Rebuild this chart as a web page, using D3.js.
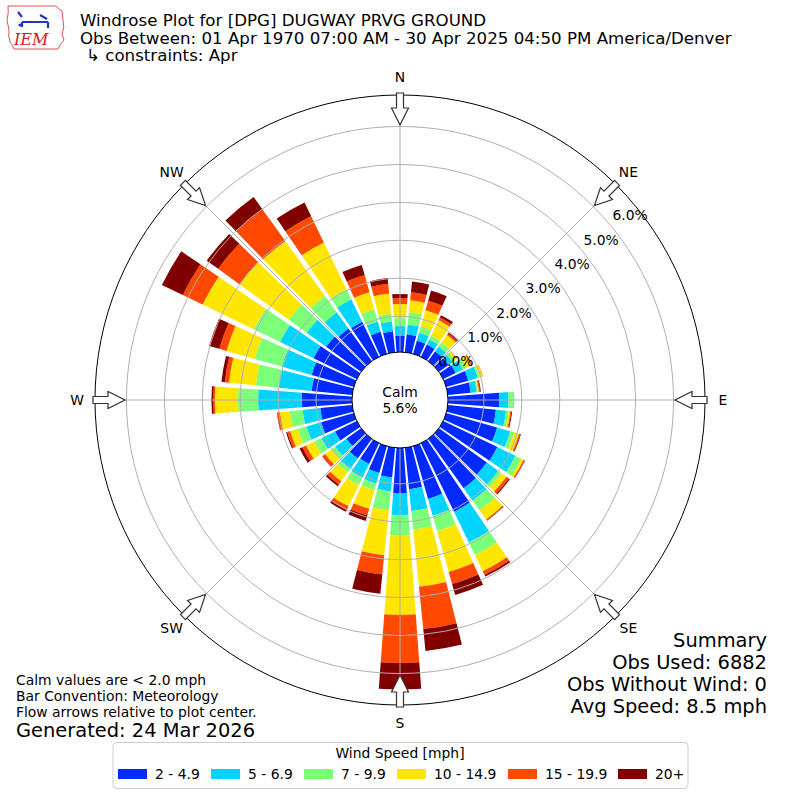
<!DOCTYPE html>
<html>
<head>
<meta charset="utf-8">
<script src="https://cdn.jsdelivr.net/npm/d3@7"></script>
<style>
  body { margin: 0; background: #fff; }
  text { font-family: "DejaVu Sans", sans-serif; }
</style>
</head>
<body>
<div id="chart"></div>
<script>
// wind direction bins (degrees, meteorological "from")
var directions = [0, 10, 20, 30, 40, 50, 60, 70, 80, 90, 100, 110, 120, 130, 140, 150, 160, 170,
  180, 190, 200, 210, 220, 230, 240, 250, 260, 270, 280, 290, 300, 310, 320, 330, 340, 350];

var speedBins = ["2 - 4.9", "5 - 6.9", "7 - 9.9", "10 - 14.9", "15 - 19.9", "20+"];

// frequency (%) per direction for each speed bin
var spd2to5 = [0.49, 0.53, 0.42, 0.41, 0.37, 0.37, 0.42, 0.66, 0.66, 1.41, 1.33, 1.45, 1.64, 1.61, 1.66, 2.06, 1.50, 1.15,
  1.25, 0.84, 0.79, 0.66, 0.69, 0.53, 0.69, 0.95, 0.90, 1.38, 1.13, 1.21, 1.32, 1.19, 1.11, 1.08, 0.66, 0.61];
var spd5to7 = [0.25, 0.26, 0.21, 0.15, 0.16, 0.13, 0.21, 0.26, 0.16, 0.24, 0.27, 0.36, 0.53, 0.37, 0.40, 0.90, 0.46, 0.58,
  0.57, 0.37, 0.29, 0.40, 0.34, 0.37, 0.40, 0.40, 0.47, 1.15, 0.87, 0.82, 0.98, 0.63, 0.53, 0.66, 0.28, 0.26];
var spd7to10 = [0.21, 0.32, 0.18, 0.11, 0.13, 0.07, 0.11, 0.05, 0.03, 0.13, 0.07, 0.11, 0.17, 0.11, 0.32, 0.37, 0.42, 0.49,
  0.55, 0.50, 0.18, 0.21, 0.11, 0.11, 0.21, 0.24, 0.34, 0.53, 0.61, 0.74, 0.77, 0.58, 0.53, 0.29, 0.33, 0.21];
var spd10to15 = [0.37, 0.32, 0.44, 0.45, 0.24, 0.07, 0.13, 0.08, 0.03, 0.01, 0.04, 0.13, 0.07, 0.16, 0.29, 0.47, 1.12, 1.52,
  2.08, 1.19, 0.51, 0.63, 0.29, 0.21, 0.24, 0.21, 0.26, 0.61, 0.71, 0.77, 1.50, 1.61, 1.79, 1.37, 0.47, 0.53];
var spd15to20 = [0.15, 0.21, 0.26, 0.08, 0.05, 0.01, 0.03, 0.01, 0.03, 0.01, 0.03, 0.03, 0.03, 0.08, 0.03, 0.11, 0.33, 1.12,
  1.27, 0.51, 0.18, 0.11, 0.11, 0.09, 0.11, 0.08, 0.07, 0.04, 0.11, 0.20, 0.58, 0.69, 1.03, 0.77, 0.47, 0.26];
var spd20plus = [0.11, 0.29, 0.28, 0.07, 0.03, 0.00, 0.01, 0.00, 0.02, 0.00, 0.02, 0.02, 0.01, 0.03, 0.01, 0.05, 0.30, 0.58,
  0.70, 0.51, 0.15, 0.05, 0.05, 0.01, 0.08, 0.03, 0.01, 0.05, 0.09, 0.28, 0.61, 0.37, 0.40, 0.40, 0.28, 0.15];

var rTicks = [0, 1, 2, 3, 4, 5, 6];
var rTickLabels = ["0.0%", "1.0%", "2.0%", "3.0%", "4.0%", "5.0%", "6.0%"];
var compassAngles = [0, 45, 90, 135, 180, 225, 270, 315];
var compassLabels = ["N", "NE", "E", "SE", "S", "SW", "W", "NW"];
var calmPct = "5.6%";

var colors = ["#002aff", "#00d4ff", "#7cff79", "#ffe600", "#ff4800", "#800000"];

var width = 800, height = 800, cx = 400, cy = 400;
var fs10 = 13.89, fs12 = 16.67, fs14 = 19.44; // matplotlib pt sizes at 100 dpi

var svg = d3.select("#chart").append("svg").attr("width", width).attr("height", height);

var series = [spd2to5, spd5to7, spd7to10, spd10to15, spd15to20, spd20plus];
var rows = directions.map(function (d, i) {
  var row = { dir: d };
  speedBins.forEach(function (b, j) { row[b] = series[j][i]; });
  return row;
});
var stacked = d3.stack().keys(speedBins)(rows);

var r = d3.scaleLinear().domain([0, 6.83]).range([46, 305]);
var color = d3.scaleOrdinal().domain(speedBins).range(colors);
var rad = Math.PI / 180, half = 4.2 * rad;

var plot = svg.append("g").attr("transform", "translate(" + cx + "," + cy + ")");

var arc = d3.arc();
plot.selectAll(".layer")
  .data(stacked)
  .enter()
  .append("g")
  .attr("class", "layer")
  .attr("fill", function (d) { return color(d.key); })
  .selectAll("path")
  .data(function (d) { return d; })
  .enter()
  .append("path")
  .attr("d", function (d) {
    return arc({
      innerRadius: r(d[0]),
      outerRadius: r(d[1]),
      startAngle: d.data.dir * rad - half,
      endAngle: d.data.dir * rad + half
    });
  });

// grid rings and spokes (drawn over bars like matplotlib polar)
plot.selectAll(".ring")
  .data(rTicks)
  .enter()
  .append("circle")
  .attr("r", function (d) { return r(d); })
  .attr("fill", "none")
  .attr("stroke", "#b0b0b0")
  .attr("stroke-width", 1);

plot.selectAll(".spoke")
  .data(compassAngles)
  .enter()
  .append("line")
  .attr("x1", 0).attr("y1", 0)
  .attr("x2", function (d) { return r(6.83) * Math.sin(d * rad); })
  .attr("y2", function (d) { return -r(6.83) * Math.cos(d * rad); })
  .attr("stroke", "#b0b0b0")
  .attr("stroke-width", 1);

// outer frame
plot.append("circle").attr("r", r(6.83)).attr("fill", "none").attr("stroke", "#000").attr("stroke-width", 1);

// calm circle
plot.append("circle").attr("r", 48).attr("fill", "#fff").attr("stroke", "#000").attr("stroke-width", 1);
plot.append("text").attr("x", 0).attr("y", -3).attr("text-anchor", "middle").attr("font-size", fs10).text("Calm");
plot.append("text").attr("x", 0).attr("y", 13).attr("text-anchor", "middle").attr("font-size", fs10).text(calmPct);

// radial tick labels
var labAng = 50 * rad;
plot.selectAll(".rlab")
  .data(rTicks)
  .enter()
  .append("text")
  .attr("x", function (d) { return r(d) * Math.sin(labAng) + 3; })
  .attr("y", function (d) { return -r(d) * Math.cos(labAng) - 4; })
  .attr("font-size", fs10)
  .text(function (d, i) { return rTickLabels[i]; });

// flow arrows, pointing to the center
var arrowPath = "M-3.5,-307 L3.5,-307 L3.5,-292 L8.5,-292 L0,-275 L-8.5,-292 L-3.5,-292 Z";
plot.selectAll(".arrow")
  .data(compassAngles)
  .enter()
  .append("path")
  .attr("d", arrowPath)
  .attr("transform", function (d) { return "rotate(" + d + ")"; })
  .attr("fill", "#fff")
  .attr("stroke", "#333")
  .attr("stroke-width", 1.2);

// compass labels
plot.selectAll(".clab")
  .data(compassAngles)
  .enter()
  .append("text")
  .attr("x", function (d) { return 323 * Math.sin(d * rad); })
  .attr("y", function (d) { return -323 * Math.cos(d * rad) + 5; })
  .attr("text-anchor", "middle")
  .attr("font-size", fs10)
  .text(function (d, i) { return compassLabels[i]; });

// title
var title = svg.append("g").attr("font-size", fs12);
title.append("text").attr("x", 80).attr("y", 26).text("Windrose Plot for [DPG] DUGWAY PRVG GROUND");
title.append("text").attr("x", 80).attr("y", 43.5).text("Obs Between: 01 Apr 1970 07:00 AM - 30 Apr 2025 04:50 PM America/Denver");
title.append("text").attr("x", 86).attr("y", 61).text("\u21b3 constraints: Apr");

// logo
var logo = svg.append("g");
logo.append("path")
  .attr("d", "M8,6 L56,6 Q58,9 62,11 L63,20 Q65,28 62,34 L64,40 Q60,44 58,49 L14,49 Q12,44 10,42 Q8,36 9,30 L7,20 Q9,12 8,6 Z")
  .attr("fill", "none").attr("stroke", "#e05555").attr("stroke-width", 1);
logo.append("path").attr("d", "M22,22 L48,22 M48,22 L48,28 M22,22 L22,27 M18,12 L22,17 M40,15 L47,19")
  .attr("stroke", "#2233cc").attr("stroke-width", 2.2).attr("fill", "none");
logo.append("circle").attr("cx", 20).attr("cy", 25).attr("r", 1.6).attr("fill", "#2233cc");
logo.append("text").attr("x", 14).attr("y", 45).attr("font-size", 16).attr("font-style", "italic")
  .attr("fill", "#cc2222").style("font-family", "'DejaVu Serif', 'Liberation Serif', serif").text("IEM");

// summary block
var summary = ["Summary", "Obs Used: 6882", "Obs Without Wind: 0", "Avg Speed: 8.5 mph"];
svg.append("g").selectAll("text")
  .data(summary)
  .enter()
  .append("text")
  .attr("x", 767)
  .attr("y", function (d, i) { return 646.5 + i * 22; })
  .attr("text-anchor", "end")
  .attr("font-size", fs14)
  .text(function (d) { return d; });

// notes
var notes = ["Calm values are < 2.0 mph", "Bar Convention: Meteorology", "Flow arrows relative to plot center."];
svg.append("g").selectAll("text")
  .data(notes)
  .enter()
  .append("text")
  .attr("x", 16)
  .attr("y", function (d, i) { return 685 + i * 16; })
  .attr("font-size", fs10)
  .text(function (d) { return d; });
svg.append("text").attr("x", 16).attr("y", 736.5).attr("font-size", fs14).text("Generated: 24 Mar 2026");

// legend
var lg = svg.append("g");
lg.append("rect").attr("x", 113).attr("y", 742.5).attr("width", 575).attr("height", 46)
  .attr("rx", 4).attr("fill", "#fff").attr("stroke", "#cccccc").attr("stroke-width", 1);
lg.append("text").attr("x", 400).attr("y", 757.5).attr("text-anchor", "middle").attr("font-size", fs10).text("Wind Speed [mph]");
var legX = [118, 211, 304, 397, 508, 618];
var items = lg.selectAll(".item")
  .data(speedBins)
  .enter()
  .append("g")
  .attr("transform", function (d, i) { return "translate(" + legX[i] + ",769)"; });
items.append("rect").attr("width", 29).attr("height", 10).attr("fill", function (d) { return color(d); });
items.append("text").attr("x", 37).attr("y", 10).attr("font-size", fs10).text(function (d) { return d; });
</script>
</body>
</html>
